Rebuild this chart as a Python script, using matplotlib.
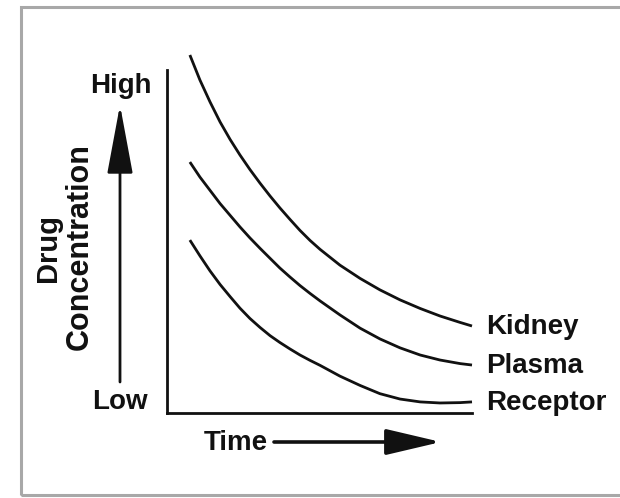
import matplotlib
matplotlib.use("Agg")
import matplotlib.pyplot as plt
from matplotlib.patches import Rectangle

# ---- data (arbitrary units) ----
time = [0.75, 1.08, 1.41, 1.74, 2.07, 2.39, 2.72, 3.05, 3.38, 3.70, 4.03,
        4.36, 4.69, 5.02, 5.67, 6.33, 6.98, 7.64, 8.30, 8.95, 9.61, 10.0]
kidney = [100.0, 93.0, 86.9, 81.3, 76.4, 72.1, 68.0, 64.2, 60.6, 57.3, 54.1,
          51.0, 48.2, 45.7, 41.3, 37.6, 34.4, 31.6, 29.2, 27.1, 25.3, 24.3]
plasma = [70.1, 65.9, 62.2, 58.5, 55.2, 52.0, 48.9, 46.0, 43.2, 40.5, 38.0,
          35.6, 33.4, 31.3, 27.4, 23.7, 20.7, 18.2, 16.2, 14.8, 13.8, 13.4]
receptor = [48.3, 43.9, 39.7, 35.9, 32.5, 29.3, 26.4, 23.9, 21.6, 19.7, 17.9,
            16.2, 14.7, 13.3, 10.3, 7.7, 5.4, 3.9, 3.1, 2.8, 2.9, 3.1]
series_names = ["Kidney", "Plasma", "Receptor"]

W, H = 620, 498
fig = plt.figure(figsize=(W / 100, H / 100), dpi=100)
fig.patch.set_facecolor("white")

def fx(x):
    return x / W

def fy(y):
    return 1 - y / H

FONT = dict(family=["Liberation Sans", "DejaVu Sans"], weight="bold", color="#111111")
INK = "#111111"

# outer gray frame
fig.patches.append(Rectangle((fx(21), fy(495)), 1.2, fy(7) - fy(495),
                             transform=fig.transFigure, fill=False,
                             edgecolor="#a8a8a8", linewidth=2.2))

# main axes
left, right, top, bottom = 167, 472, 70, 413
ax = fig.add_axes([fx(left), fy(bottom), fx(right) - fx(left), fy(top) - fy(bottom)])
ax.set_xlim(0, 10)
ax.set_ylim(0, 100 * (413 - 70) / (413 - 55))
ax.patch.set_alpha(0)
for s in ["top", "right"]:
    ax.spines[s].set_visible(False)
for s in ["left", "bottom"]:
    ax.spines[s].set_linewidth(2.0)
    ax.spines[s].set_color(INK)
ax.set_xticks([])
ax.set_yticks([])

for vals in (kidney, plasma, receptor):
    ax.plot(time, vals, color=INK, linewidth=2.0, clip_on=False,
            solid_capstyle="butt", solid_joinstyle="round")

# curve labels at the end of each curve
for name, vals in zip(series_names, (kidney, plasma, receptor)):
    ax.annotate(name, xy=(time[-1], vals[-1]), xytext=(14, -1),
                textcoords="offset pixels", ha="left", va="center",
                fontsize=20, annotation_clip=False, **FONT)

# y-axis annotations
fig.text(fx(121), fy(86), "High", ha="center", va="center", fontsize=20, **FONT)
fig.text(fx(120), fy(402), "Low", ha="center", va="center", fontsize=20, **FONT)
fig.text(fx(48), fy(248), "Drug", ha="center", va="center", rotation=90, fontsize=21, **FONT)
fig.text(fx(80), fy(247), "Concentration", ha="center", va="center", rotation=90, fontsize=22, **FONT)
ax.annotate("", xy=(fx(120), fy(105)), xytext=(fx(120), fy(382)),
            xycoords="figure fraction", textcoords="figure fraction",
            arrowprops=dict(arrowstyle="-|>,head_length=4.3,head_width=0.8",
                            color=INK, lw=2.0, shrinkA=0, shrinkB=0))

# x-axis annotation
fig.text(fx(236), fy(443), "Time", ha="center", va="center", fontsize=20, **FONT)
ax.annotate("", xy=(fx(441), fy(442)), xytext=(fx(274), fy(442)),
            xycoords="figure fraction", textcoords="figure fraction",
            arrowprops=dict(arrowstyle="-|>,head_length=3.4,head_width=0.8",
                            color=INK, lw=2.6, shrinkA=0, shrinkB=0))

fig.savefig("out.png", dpi=100)
